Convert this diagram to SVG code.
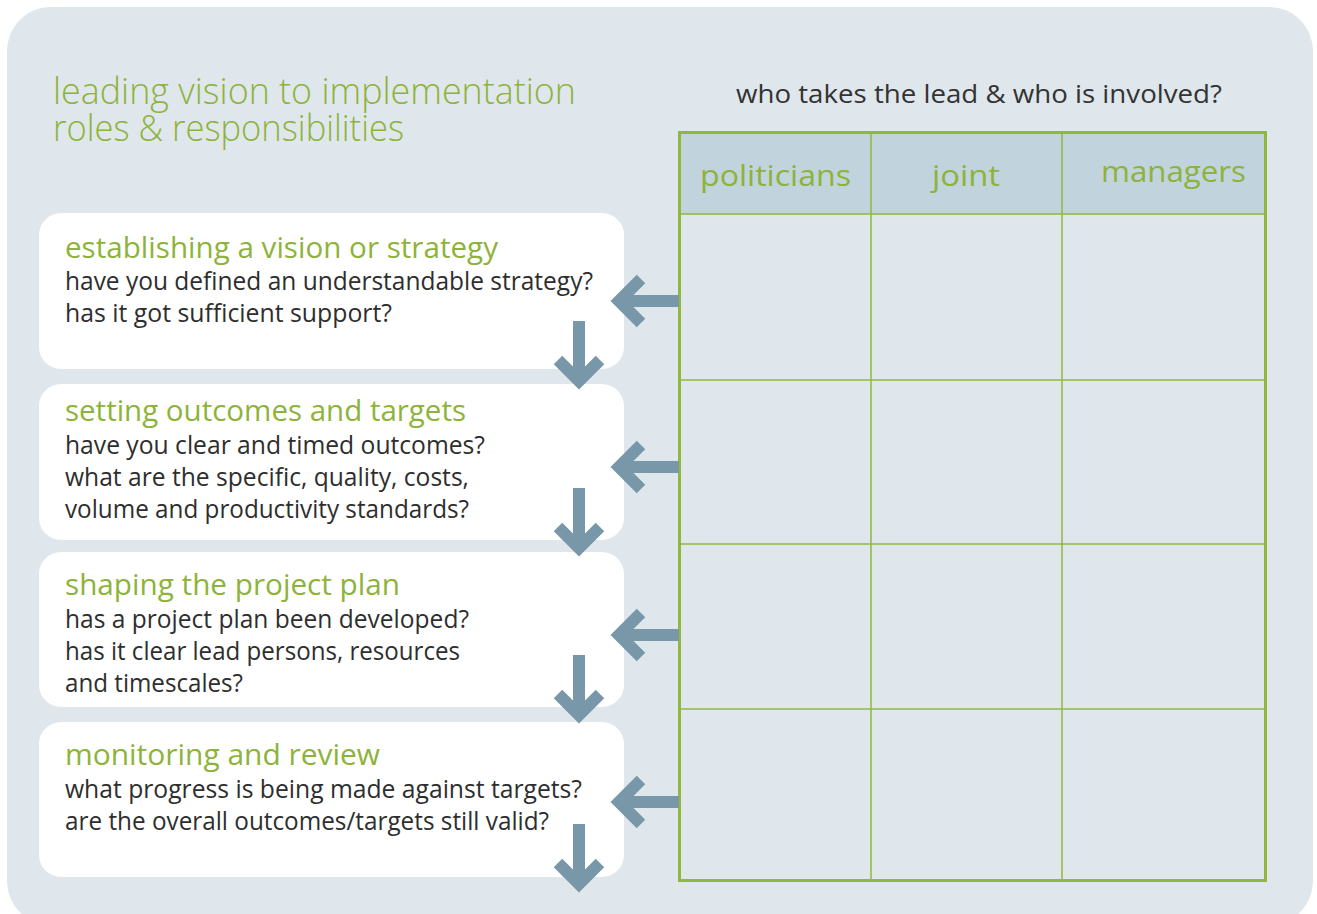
<svg xmlns="http://www.w3.org/2000/svg" xmlns:xlink="http://www.w3.org/1999/xlink" width="1317" height="914" viewBox="0 0 1317 914">
<style>
.title{font-family:"Open Sans","Noto Sans",sans-serif;font-weight:300;font-size:37px;fill:#8db33a}
.sub{font-family:"Open Sans","Noto Sans",sans-serif;font-weight:400;font-size:26px;fill:#333333}
.hd{font-family:"Open Sans","Noto Sans",sans-serif;font-weight:400;font-size:30px;fill:#8db33a}
.ch{font-family:"Open Sans","Noto Sans",sans-serif;font-weight:400;font-size:29px;fill:#8db33a}
.cb{font-family:"Open Sans","Noto Sans",sans-serif;font-weight:400;font-size:25px;fill:#2e2e2e}
.card{fill:#ffffff}
.grid{stroke:#8fb83c;stroke-width:1.5;fill:none}
.arr{stroke:#7897a9;fill:none;stroke-width:12;stroke-linejoin:miter;stroke-linecap:butt}
</style>
<defs>
<g id="arrL"><path class="arr" d="M60,0 H0"/><path class="arr" d="M22,-22 L0,0 L22,22" stroke-width="11"/></g>
<g id="arrD"><path class="arr" d="M0,-60 V0"/><path class="arr" d="M-21,-21 L0,0 L21,-21" stroke-width="11"/></g>
</defs>
<rect x="0" y="0" width="1317" height="914" fill="#ffffff"/>
<rect id="panel" x="7" y="7" width="1306" height="918" rx="44" ry="44" fill="#dfe6ec"/>
<g id="title">
<text class="title" x="53" y="104" textLength="523" lengthAdjust="spacingAndGlyphs">leading vision to implementation</text>
<text class="title" x="53" y="141" textLength="351" lengthAdjust="spacingAndGlyphs">roles &amp; responsibilities</text>
</g>
<g id="subtitle">
<text class="sub" x="736" y="103" textLength="486" lengthAdjust="spacingAndGlyphs">who takes the lead &amp; who is involved?</text>
</g>
<g id="table">
<rect x="679.5" y="132.5" width="586" height="82" fill="#c1d3dc"/>
<line class="grid" x1="679" y1="214" x2="1266" y2="214"/>
<line class="grid" x1="679" y1="380" x2="1266" y2="380"/>
<line class="grid" x1="679" y1="544" x2="1266" y2="544"/>
<line class="grid" x1="679" y1="709" x2="1266" y2="709"/>
<line class="grid" x1="871" y1="132" x2="871" y2="881"/>
<line class="grid" x1="1062" y1="132" x2="1062" y2="881"/>
<rect x="679.5" y="132.5" width="586" height="748" fill="none" stroke="#8fb83c" stroke-width="3"/>
<text class="hd" x="700" y="186" textLength="151" lengthAdjust="spacingAndGlyphs">politicians</text>
<text class="hd" x="932" y="186" textLength="68" lengthAdjust="spacingAndGlyphs">joint</text>
<text class="hd" x="1101" y="182" textLength="145" lengthAdjust="spacingAndGlyphs">managers</text>
</g>
<g id="card1">
<rect class="card" x="39" y="213" width="585" height="156" rx="22"/>
<text class="ch" x="65" y="258" textLength="433" lengthAdjust="spacingAndGlyphs">establishing a vision or strategy</text>
<text class="cb" x="65" y="290" textLength="528" lengthAdjust="spacingAndGlyphs">have you defined an understandable strategy?</text>
<text class="cb" x="65" y="322" textLength="327" lengthAdjust="spacingAndGlyphs">has it got sufficient support?</text>
</g>
<g id="card2">
<rect class="card" x="39" y="384" width="585" height="156" rx="22"/>
<text class="ch" x="65" y="421" textLength="401" lengthAdjust="spacingAndGlyphs">setting outcomes and targets</text>
<text class="cb" x="65" y="454" textLength="420" lengthAdjust="spacingAndGlyphs">have you clear and timed outcomes?</text>
<text class="cb" x="65" y="486" textLength="404" lengthAdjust="spacingAndGlyphs">what are the specific, quality, costs,</text>
<text class="cb" x="65" y="518" textLength="404" lengthAdjust="spacingAndGlyphs">volume and productivity standards?</text>
</g>
<g id="card3">
<rect class="card" x="39" y="552" width="585" height="155" rx="22"/>
<text class="ch" x="65" y="595" textLength="335" lengthAdjust="spacingAndGlyphs">shaping the project plan</text>
<text class="cb" x="65" y="628" textLength="404" lengthAdjust="spacingAndGlyphs">has a project plan been developed?</text>
<text class="cb" x="65" y="660" textLength="395" lengthAdjust="spacingAndGlyphs">has it clear lead persons, resources</text>
<text class="cb" x="65" y="692" textLength="178" lengthAdjust="spacingAndGlyphs">and timescales?</text>
</g>
<g id="card4">
<rect class="card" x="39" y="722" width="585" height="155" rx="22"/>
<text class="ch" x="65" y="765" textLength="315" lengthAdjust="spacingAndGlyphs">monitoring and review</text>
<text class="cb" x="65" y="798" textLength="517" lengthAdjust="spacingAndGlyphs">what progress is being made against targets?</text>
<text class="cb" x="65" y="830" textLength="484" lengthAdjust="spacingAndGlyphs">are the overall outcomes/targets still valid?</text>
</g>
<g id="connectors">
<use xlink:href="#arrL" x="619" y="301"/>
<use xlink:href="#arrL" x="619" y="467"/>
<use xlink:href="#arrL" x="619" y="635"/>
<use xlink:href="#arrL" x="619" y="802"/>
<use xlink:href="#arrD" x="579" y="381"/>
<use xlink:href="#arrD" x="579" y="548"/>
<use xlink:href="#arrD" x="579" y="715"/>
<use xlink:href="#arrD" x="579" y="884"/>
</g>
</svg>
